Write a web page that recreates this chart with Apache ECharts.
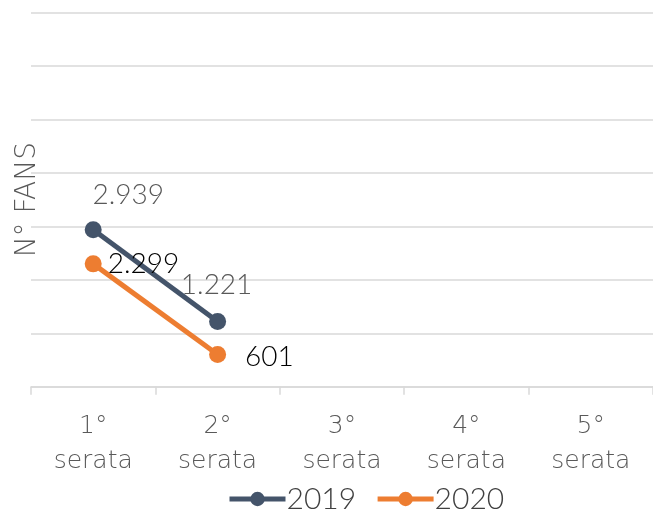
<!DOCTYPE html>
<html><head><meta charset="utf-8">
<script src="https://cdn.jsdelivr.net/npm/echarts@6/dist/echarts.min.js"></script>
<style>html,body{margin:0;padding:0;background:#fff}#c{width:653px;height:516px}</style>
</head><body><div id="c"></div>
<script>
const categories = ['1°\nserata','2°\nserata','3°\nserata','4°\nserata','5°\nserata'];
const values2019 = [2939, 1221, null, null, null];
const values2020 = [2299, 601, null, null, null];
const yTicks = {min: 0, max: 7000, interval: 1000};

function fmtNum(n){ return String(n).replace(/\B(?=(\d{3})+(?!\d))/g, '.'); }

const chart = echarts.init(document.getElementById('c'));
const lbl2019Off = [[35, -4], [-1, -6]];
const lbl2020Off = [[1, 0], [14, 2]];
chart.setOption({
  animation: false,
  textStyle: {fontFamily: 'DejaVu Sans'},
  grid: {left: 31, right: -3, top: 12.7, bottom: 129.3},
  legend: {
    top: 484, left: 227, itemWidth: 56, itemHeight: 18, itemGap: 19, padding: 0,
    lineStyle: {width: 5},
    textStyle: {fontFamily: 'Lato', fontWeight: 300, fontSize: 30, color: '#404040', padding: [0,0,0,-4]},
    data: ['2019', '2020']
  },
  xAxis: {
    type: 'category', data: categories, boundaryGap: true,
    axisLine: {lineStyle: {color: '#D9D9D9', width: 1.5}},
    axisTick: {show: true, length: 8, lineStyle: {color: '#D9D9D9', width: 1.5}},
    axisLabel: {fontFamily: 'DejaVu Sans', fontWeight: 200, fontSize: 25, color: '#595959', lineHeight: 35, margin: 22}
  },
  yAxis: {
    type: 'value', min: yTicks.min, max: yTicks.max, interval: yTicks.interval,
    name: 'N° FANS', nameLocation: 'middle', nameGap: -11,
    nameTextStyle: {fontFamily: 'DejaVu Sans', fontWeight: 200, fontSize: 28, color: '#595959'},
    axisLabel: {show: false}, axisLine: {show: false}, axisTick: {show: false},
    splitLine: {lineStyle: {color: '#D9D9D9', width: 1.5}}
  },
  series: [
    {
      name: '2019', type: 'line', color: '#44546A',
      symbol: 'circle', symbolSize: 17, lineStyle: {width: 5},
      data: values2019.map((v, i) => v == null ? null : {value: v, label: {offset: lbl2019Off[i]}}),
      label: {show: true, position: 'top', distance: 8, formatter: p => fmtNum(p.value),
        fontFamily: 'Lato', fontWeight: 300, fontSize: 28, color: '#595959'}
    },
    {
      name: '2020', type: 'line', color: '#ED7D31',
      symbol: 'circle', symbolSize: 17, lineStyle: {width: 5},
      data: values2020.map((v, i) => v == null ? null : {value: v, label: {offset: lbl2020Off[i]}}),
      label: {show: true, position: 'right', distance: 5, formatter: p => fmtNum(p.value),
        fontFamily: 'Lato', fontWeight: 300, fontSize: 28, color: '#000000'}
    }
  ]
});
</script></body></html>
